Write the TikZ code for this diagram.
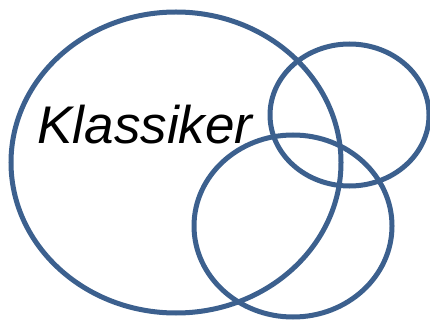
\documentclass[tikz,border=0pt]{standalone}
\usepackage{fontspec}
\setmainfont{Liberation Sans}
\definecolor{ringblue}{RGB}{60,96,142}
\begin{document}
\begin{tikzpicture}[x=1pt,y=-1pt,
  ring/.style={draw=ringblue,line width=5pt},
  label/.style={font=\fontsize{53}{60}\selectfont\itshape,inner sep=0pt,anchor=base}]
\useasboundingbox (0,0) rectangle (430,320);
\draw[ring] (176,162.5) ellipse [x radius=165,y radius=150.5];
\draw[ring] (349.5,115) ellipse [x radius=79.5,y radius=71];
\draw[ring] (293,226) ellipse [x radius=99,y radius=91];
\node[label] (klassiker) at (145,143.3) {Klassiker};
\end{tikzpicture}
\end{document}
